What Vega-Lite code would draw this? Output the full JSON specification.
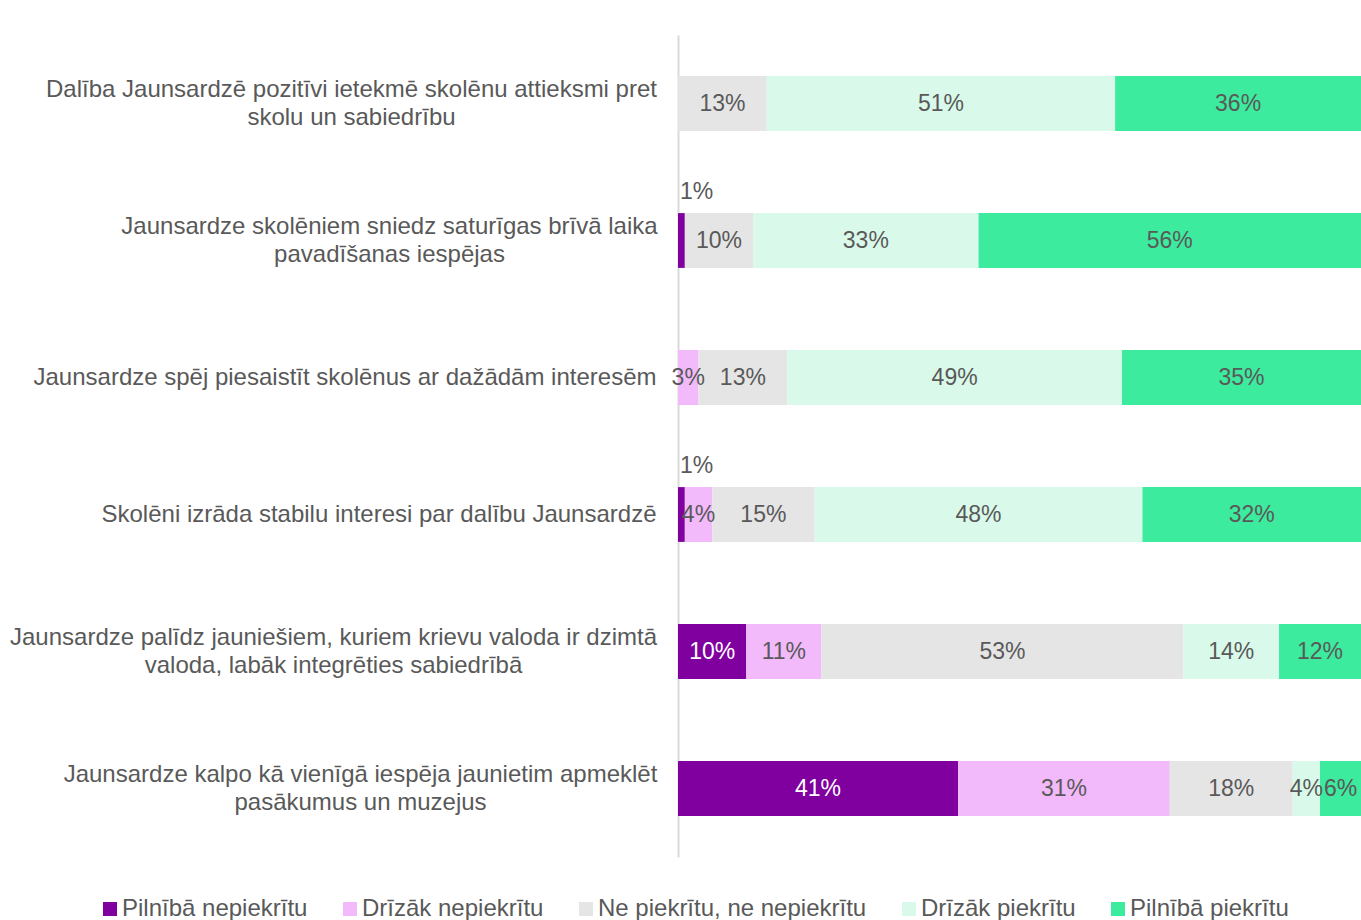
{
  "$schema": "https://vega.github.io/schema/vega-lite/v6.json",
  "width": 683,
  "height": 822,
  "autosize": {"type": "none"},
  "padding": {"left": 678, "top": 35, "right": 0, "bottom": 63},
  "background": "white",
  "config": {"view": {"stroke": null}, "font": "Liberation Sans"},
  "data": {"values": [
    {"q": "Dalība Jaunsardzē pozitīvi ietekmē skolēnu attieksmi pret|skolu un sabiedrību", "qi": 1, "cat": "Ne piekrītu, ne nepiekrītu", "k": 3, "v": 0.13},
    {"q": "Dalība Jaunsardzē pozitīvi ietekmē skolēnu attieksmi pret|skolu un sabiedrību", "qi": 1, "cat": "Drīzāk piekrītu", "k": 4, "v": 0.51},
    {"q": "Dalība Jaunsardzē pozitīvi ietekmē skolēnu attieksmi pret|skolu un sabiedrību", "qi": 1, "cat": "Pilnībā piekrītu", "k": 5, "v": 0.36},
    {"q": "Jaunsardze skolēniem sniedz saturīgas brīvā laika|pavadīšanas iespējas", "qi": 2, "cat": "Pilnībā nepiekrītu", "k": 1, "v": 0.01},
    {"q": "Jaunsardze skolēniem sniedz saturīgas brīvā laika|pavadīšanas iespējas", "qi": 2, "cat": "Ne piekrītu, ne nepiekrītu", "k": 3, "v": 0.10},
    {"q": "Jaunsardze skolēniem sniedz saturīgas brīvā laika|pavadīšanas iespējas", "qi": 2, "cat": "Drīzāk piekrītu", "k": 4, "v": 0.33},
    {"q": "Jaunsardze skolēniem sniedz saturīgas brīvā laika|pavadīšanas iespējas", "qi": 2, "cat": "Pilnībā piekrītu", "k": 5, "v": 0.56},
    {"q": "Jaunsardze spēj piesaistīt skolēnus ar dažādām interesēm", "qi": 3, "cat": "Drīzāk nepiekrītu", "k": 2, "v": 0.03},
    {"q": "Jaunsardze spēj piesaistīt skolēnus ar dažādām interesēm", "qi": 3, "cat": "Ne piekrītu, ne nepiekrītu", "k": 3, "v": 0.13},
    {"q": "Jaunsardze spēj piesaistīt skolēnus ar dažādām interesēm", "qi": 3, "cat": "Drīzāk piekrītu", "k": 4, "v": 0.49},
    {"q": "Jaunsardze spēj piesaistīt skolēnus ar dažādām interesēm", "qi": 3, "cat": "Pilnībā piekrītu", "k": 5, "v": 0.35},
    {"q": "Skolēni izrāda stabilu interesi par dalību Jaunsardzē", "qi": 4, "cat": "Pilnībā nepiekrītu", "k": 1, "v": 0.01},
    {"q": "Skolēni izrāda stabilu interesi par dalību Jaunsardzē", "qi": 4, "cat": "Drīzāk nepiekrītu", "k": 2, "v": 0.04},
    {"q": "Skolēni izrāda stabilu interesi par dalību Jaunsardzē", "qi": 4, "cat": "Ne piekrītu, ne nepiekrītu", "k": 3, "v": 0.15},
    {"q": "Skolēni izrāda stabilu interesi par dalību Jaunsardzē", "qi": 4, "cat": "Drīzāk piekrītu", "k": 4, "v": 0.48},
    {"q": "Skolēni izrāda stabilu interesi par dalību Jaunsardzē", "qi": 4, "cat": "Pilnībā piekrītu", "k": 5, "v": 0.32},
    {"q": "Jaunsardze palīdz jauniešiem, kuriem krievu valoda ir dzimtā|valoda, labāk integrēties sabiedrībā", "qi": 5, "cat": "Pilnībā nepiekrītu", "k": 1, "v": 0.10},
    {"q": "Jaunsardze palīdz jauniešiem, kuriem krievu valoda ir dzimtā|valoda, labāk integrēties sabiedrībā", "qi": 5, "cat": "Drīzāk nepiekrītu", "k": 2, "v": 0.11},
    {"q": "Jaunsardze palīdz jauniešiem, kuriem krievu valoda ir dzimtā|valoda, labāk integrēties sabiedrībā", "qi": 5, "cat": "Ne piekrītu, ne nepiekrītu", "k": 3, "v": 0.53},
    {"q": "Jaunsardze palīdz jauniešiem, kuriem krievu valoda ir dzimtā|valoda, labāk integrēties sabiedrībā", "qi": 5, "cat": "Drīzāk piekrītu", "k": 4, "v": 0.14},
    {"q": "Jaunsardze palīdz jauniešiem, kuriem krievu valoda ir dzimtā|valoda, labāk integrēties sabiedrībā", "qi": 5, "cat": "Pilnībā piekrītu", "k": 5, "v": 0.12},
    {"q": "Jaunsardze kalpo kā vienīgā iespēja jaunietim apmeklēt|pasākumus un muzejus", "qi": 6, "cat": "Pilnībā nepiekrītu", "k": 1, "v": 0.41},
    {"q": "Jaunsardze kalpo kā vienīgā iespēja jaunietim apmeklēt|pasākumus un muzejus", "qi": 6, "cat": "Drīzāk nepiekrītu", "k": 2, "v": 0.31},
    {"q": "Jaunsardze kalpo kā vienīgā iespēja jaunietim apmeklēt|pasākumus un muzejus", "qi": 6, "cat": "Ne piekrītu, ne nepiekrītu", "k": 3, "v": 0.18},
    {"q": "Jaunsardze kalpo kā vienīgā iespēja jaunietim apmeklēt|pasākumus un muzejus", "qi": 6, "cat": "Drīzāk piekrītu", "k": 4, "v": 0.04},
    {"q": "Jaunsardze kalpo kā vienīgā iespēja jaunietim apmeklēt|pasākumus un muzejus", "qi": 6, "cat": "Pilnībā piekrītu", "k": 5, "v": 0.06}
  ]},
  "encoding": {
    "y": {
      "field": "q", "type": "nominal",
      "sort": {"field": "qi", "op": "min"},
      "scale": {"paddingInner": 0.6, "paddingOuter": 0.3},
      "axis": {
        "title": null,
        "ticks": false,
        "tickSize": 0,
        "domainColor": "#d9d9d9",
        "domainWidth": 2,
        "labelFont": "Liberation Sans",
        "labelFontSize": 24,
        "labelColor": "#595959",
        "labelLineHeight": 28,
        "labelLimit": 0,
        "labelBaseline": "middle",
        "labelExpr": "split(datum.label, '|')",
        "labelAlign": {"condition": {"test": "indexof(datum.value, '|') >= 0", "value": "center"}, "value": "right"},
        "labelOffset": {"condition": {"test": "indexof(datum.value, '|') >= 0", "value": -14}, "value": 0},
        "labelPadding": {"condition": [
          {"test": "indexof(datum.value, 'Dalība') >= 0", "value": 327},
          {"test": "indexof(datum.value, 'sniedz') >= 0", "value": 289},
          {"test": "indexof(datum.value, 'palīdz') >= 0", "value": 345},
          {"test": "indexof(datum.value, 'kalpo') >= 0", "value": 318}
        ], "value": 22}
      }
    }
  },
  "layer": [
    {
      "mark": {"type": "bar"},
      "encoding": {
        "x": {"field": "v", "type": "quantitative", "stack": "zero", "scale": {"domain": [0, 1], "nice": false}, "axis": null},
        "order": {"field": "k", "type": "quantitative"},
        "color": {
          "field": "cat", "type": "nominal",
          "scale": {
            "domain": ["Pilnībā nepiekrītu", "Drīzāk nepiekrītu", "Ne piekrītu, ne nepiekrītu", "Drīzāk piekrītu", "Pilnībā piekrītu"],
            "range": ["#7f009f", "#f2b9fb", "#e5e5e5", "#d9f9ea", "#3deb9e"]
          },
          "legend": {
            "orient": "none", "legendX": -580, "legendY": 862,
            "direction": "horizontal", "columns": 5, "title": null,
            "symbolType": "square", "symbolSize": 196, "symbolStrokeWidth": 0,
            "labelFont": "Liberation Sans", "labelFontSize": 24, "labelColor": "#595959",
            "labelLimit": 600, "columnPadding": 30, "labelOffset": 0
          }
        }
      }
    },
    {
      "mark": {"type": "text", "font": "Liberation Sans", "fontSize": 23, "baseline": "middle", "align": "center"},
      "encoding": {
        "x": {"field": "v", "type": "quantitative", "stack": "zero", "bandPosition": 0.5},
        "order": {"field": "k", "type": "quantitative"},
        "text": {"condition": {"test": "datum.v < 0.02", "value": ""}, "field": "v", "type": "quantitative", "format": ".0%"},
        "color": {"condition": {"test": "datum.k === 1", "value": "white"}, "value": "#595959"}
      }
    },
    {
      "transform": [{"filter": "datum.v < 0.02"}],
      "mark": {"type": "text", "font": "Liberation Sans", "fontSize": 23, "baseline": "middle", "align": "left", "dx": 2, "dy": -49, "color": "#595959"},
      "encoding": {
        "x": {"datum": 0, "type": "quantitative"},
        "text": {"field": "v", "type": "quantitative", "format": ".0%"}
      }
    }
  ]
}
